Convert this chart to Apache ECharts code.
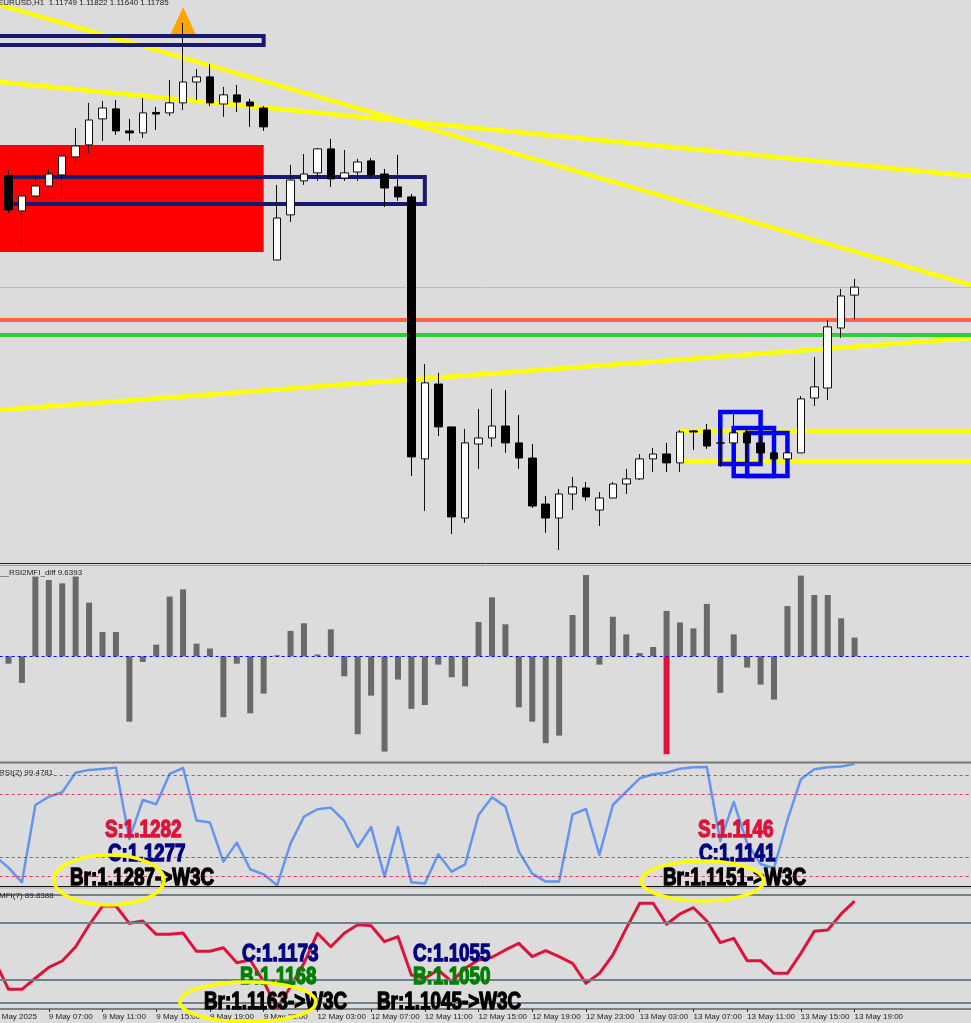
<!DOCTYPE html>
<html>
<head>
<meta charset="utf-8">
<style>html,body{margin:0;padding:0;background:#DCDCDC;overflow:hidden}#c{width:971px;height:1023px}</style>
<script src="https://cdn.jsdelivr.net/npm/echarts@6/dist/echarts.min.js"></script>
</head>
<body>
<div id="c"></div>
<script>
// ---- price candles (64 hourly bars, EURUSD H1)
const opens = [1.12285,1.12128,1.12195,1.1224,1.1229,1.12371,1.12425,1.12542,1.12587,1.12488,1.12479,1.12571,1.12569,1.12614,1.12708,1.12731,1.12609,1.1265,1.12618,1.12591,1.11907,1.1211,1.12263,1.12299,1.12407,1.12276,1.12303,1.12353,1.12294,1.12236,1.12191,1.11012,1.11349,1.11156,1.10746,1.11079,1.11106,1.1116,1.11084,1.11016,1.10809,1.10746,1.10854,1.10881,1.10782,1.10836,1.10899,1.10922,1.11012,1.11034,1.10994,1.11138,1.11142,1.11084,1.11084,1.11129,1.11084,1.11039,1.11012,1.11039,1.11286,1.11331,1.11601,1.11749];
const closes = [1.12132,1.12195,1.1224,1.12294,1.12375,1.1242,1.12537,1.12591,1.12488,1.12479,1.12569,1.12564,1.12614,1.12708,1.12731,1.12614,1.1265,1.12618,1.126,1.12506,1.12096,1.12267,1.12294,1.12407,1.12272,1.12299,1.12348,1.1229,1.12231,1.12191,1.11021,1.11354,1.11156,1.10751,1.11084,1.11106,1.1116,1.11084,1.11016,1.108,1.10746,1.10854,1.10886,1.10841,1.10836,1.10899,1.10922,1.11012,1.11034,1.10994,1.11133,1.11133,1.1107,1.11083,1.11129,1.11084,1.11039,1.11012,1.11039,1.11282,1.11336,1.11606,1.11745,1.11785];
const lows = [1.12119,1.11966,1.12195,1.1224,1.12191,1.12339,1.12389,1.12443,1.1247,1.12443,1.12456,1.12492,1.12555,1.12582,1.12627,1.126,1.12551,1.12573,1.12506,1.12488,1.11907,1.12078,1.12245,1.12263,1.12236,1.12263,1.12263,1.12276,1.12146,1.12173,1.10935,1.10778,1.11115,1.10674,1.10724,1.10967,1.11066,1.11039,1.10967,1.10791,1.10679,1.10602,1.10782,1.10823,1.1071,1.10836,1.10854,1.10917,1.10953,1.10953,1.10953,1.11052,1.11057,1.10976,1.10994,1.10994,1.10994,1.10931,1.11007,1.11039,1.1125,1.11277,1.11556,1.1164];
const highs = [1.12312,1.12209,1.12294,1.12317,1.12389,1.12501,1.12614,1.12623,1.12627,1.12542,1.12636,1.12596,1.12717,1.12974,1.12767,1.12789,1.12686,1.12695,1.12632,1.126,1.12245,1.12335,1.12384,1.12411,1.12452,1.12402,1.12362,1.12366,1.12317,1.1238,1.12204,1.11439,1.11399,1.11156,1.11147,1.11237,1.11327,1.11322,1.1121,1.11079,1.10845,1.10877,1.10931,1.10908,1.10863,1.10908,1.10967,1.11034,1.11061,1.11084,1.11142,1.11142,1.11169,1.11156,1.11219,1.11151,1.11124,1.11066,1.11088,1.11295,1.11471,1.11637,1.11777,1.11822];
// ---- RSI2MFI_diff histogram
const diffGray = [-3.8,-13.7,41.1,39.3,37.6,41.1,27.7,12.5,12.5,-33.7,-2.9,6.0,30.8,34.5,6.5,4.0,-31.4,-3.8,-29.4,-19.2,0.5,13.1,17.0,0.9,13.9,-10.3,-40.2,-20.3,-49.1,-12.0,-27.1,-25.1,-4.3,-10.8,-15.5,17.7,30.4,16.5,-26.3,-33.7,-44.8,-40.9,21.3,41.9,-4.3,20.4,11.3,1.7,4.8,23.4,17.4,14.4,27.0,-18.9,11.3,-5.8,-14.6,-22.3,25.9,41.6,31.6,31.6,19.6,9.6393];
const diffRedIndex = [49];
const diffRedValue = [-50.5];
// ---- RSI(2) and MFI(7); first point is the bar just left of the picture
const rsi = [25.9,16.9,5.2,66.7,73.3,76.8,92.4,94.6,95.4,96.4,39.7,70.7,67.3,91.4,96.1,54.3,52.7,21.7,36.8,15.6,11.6,2.8,36.2,57.4,63.3,64.6,54.0,33.1,49.2,9.7,49.2,5.2,4.2,27.5,13.7,19.5,58.8,72.8,65.4,29.6,12.1,5.8,5.8,59.3,63.5,27.0,66.7,77.3,87.9,91.1,92.4,95.6,96.7,96.9,38.1,69.1,36.2,19.8,16.4,54.8,87.1,95.1,96.7,97.2,99.4781];
const mfi = [39.7,16.4,16.4,25.6,34.7,40.0,51.9,70.0,85.8,85.8,71.4,73.3,62.2,62.2,63.3,48.1,48.1,51.1,38.6,40.8,22.8,0.6,18.6,38.1,63.1,51.9,63.1,70.3,69.4,56.1,60.3,28.3,25.6,32.5,22.8,33.9,40.8,43.1,49.2,54.7,43.6,48.6,43.6,38.1,21.4,29.7,45.0,67.2,88.1,88.1,70.6,79.2,84.4,73.3,55.3,58.9,40.3,40.3,29.7,29.7,46.4,64.7,65.8,79.2,89.8388];
// ---- time axis
const tickIndex = [-1,3,7,11,15,19,23,27,31,35,39,43,47,51,55,59,63];
const tickLabels = ['9 May 2025','9 May 07:00','9 May 11:00','9 May 15:00','9 May 19:00','9 May 23:00','12 May 03:00','12 May 07:00','12 May 11:00','12 May 15:00','12 May 19:00','12 May 23:00','13 May 03:00','13 May 07:00','13 May 11:00','13 May 15:00','13 May 19:00'];
// ---- levels
const rsiLevels = [90,75,25,10];
const mfiLevels = [95,71.7,24.2,5];
const lastPrice = 1.11785, resistanceLevel = 1.11637, supportLevel = 1.115695;
// ---- drawn objects on the price pane [x0, y0, x1, y1] (bar index, price)
const trendLines = [[-2,1.130784,72,1.117887],[-2,1.127161,72,1.122832],[-2,1.112257,72,1.115573]];
const channelLines = [[50,1.111375,72,1.111375],[50,1.110025,72,1.110025]];
const navyBoxes = [[-2,1.12915,19,1.128745],[0,1.122805,31,1.12159]];
const blueBoxes = [[53,1.11223,56,1.10989],[54,1.11151,57,1.10935],[55,1.11129,58,1.10935]];
const redZone = [-2,1.124245,19,1.11943];
const signalMark = [13,1.129848];
// ---- captions
const headerText = 'EURUSD,H1  1.11749 1.11822 1.11640 1.11785';
const diffCaption = '__RSI2MFI_diff 9.6393';
const rsiCaption = 'RSI(2) 99.4781';
const mfiCaption = 'MFI(7) 89.8388';

const BG='#DCDCDC', CRIMSON='#DC143C', YELLOW='#FFFF00', NAVY='#191970', BLUE='#0000FF', LEVEL='#708090';
const UI_FONT='"Liberation Sans", Arial, sans-serif';
const HEAVY='bold 23px "Liberation Sans", Arial, sans-serif';

const barStep=13.43, gridLeft=8.5-2*barStep, gridWidth=74*barStep;
const pane=(top,height)=>({left:gridLeft,width:gridWidth,top,height,containLabel:false,outerBoundsMode:'none',show:false});
const xa=(gridIndex,extra)=>Object.assign({type:'value',gridIndex,min:-2,max:72,show:false,splitLine:{show:false}},extra||{});
const ya=(gridIndex,min,max)=>({type:'value',gridIndex,min,max,show:false,splitLine:{show:false}});
const idx=a=>a.map((v,i)=>[i,v]);
const idxFrom=a=>a.map((v,i)=>[i-1,v]);
const seg=(s,color,width,z)=>({type:'line',xAxisIndex:0,yAxisIndex:0,data:[[s[0],s[1]],[s[2],s[3]]],symbol:'none',silent:true,z,lineStyle:{color,width,cap:'butt'}});
const box=(b,color,width,z)=>({type:'line',xAxisIndex:0,yAxisIndex:0,symbol:'none',silent:true,z,
  data:[[b[0],b[1]],[b[2],b[1]],[b[2],b[3]],[b[0],b[3]],[b[0],b[1]]],lineStyle:{color,width,join:'miter',cap:'square'}});
const levels=(arr,lineStyle)=>({silent:true,symbol:'none',precision:6,label:{show:false},animation:false,lineStyle,data:arr.map(v=>({yAxis:v}))});

const series=[
  {type:'line',xAxisIndex:0,yAxisIndex:0,data:[],z:1,silent:true,
    markArea:{silent:true,precision:6,itemStyle:{color:'#FF0000',opacity:1},data:[[{xAxis:redZone[0],yAxis:redZone[1]},{xAxis:redZone[2],yAxis:redZone[3]}]]}},
  {type:'line',xAxisIndex:0,yAxisIndex:0,data:[],z:2,silent:true,
    markLine:levels([lastPrice],{color:'#BDBDBD',width:1,type:'solid'})},
  {type:'line',xAxisIndex:0,yAxisIndex:0,data:[],z:2,silent:true,
    markLine:levels([resistanceLevel],{color:'#FF6347',width:4,type:'solid'})},
  {type:'line',xAxisIndex:0,yAxisIndex:0,data:[],z:2,silent:true,
    markLine:levels([supportLevel],{color:'#32CD32',width:4,type:'solid'})},
  ...trendLines.map(s=>seg(s,YELLOW,4.5,3)),
  ...channelLines.map(s=>seg(s,YELLOW,4.5,3)),
  ...navyBoxes.map(b=>box(b,NAVY,4,4)),
  ...blueBoxes.map(b=>box(b,BLUE,4.5,4)),
  {type:'scatter',xAxisIndex:0,yAxisIndex:0,data:[signalMark],symbol:'triangle',symbolSize:[25,27],z:4,silent:true,itemStyle:{color:'#FFA500',opacity:1}},
  {type:'candlestick',xAxisIndex:0,yAxisIndex:0,z:5,silent:true,barWidth:8,
    data:opens.map((o,i)=>[i,o,closes[i],lows[i],highs[i]]),
    itemStyle:{color:'#FFFFFF',color0:'#000000',borderColor:'#111111',borderColor0:'#000000',borderWidth:1}},
  {type:'bar',xAxisIndex:1,yAxisIndex:1,data:idx(diffGray),barWidth:6,barGap:'-100%',silent:true,itemStyle:{color:'#696969'},z:2},
  {type:'bar',xAxisIndex:1,yAxisIndex:1,data:diffRedIndex.map((x,i)=>[x,diffRedValue[i]]),barWidth:6,barGap:'-100%',silent:true,itemStyle:{color:CRIMSON},z:3},
  {type:'line',xAxisIndex:1,yAxisIndex:1,data:[],z:4,silent:true,markLine:levels([0],{color:'#0000FF',width:1,type:[3,3]})},
  {type:'line',xAxisIndex:2,yAxisIndex:2,data:idxFrom(rsi),symbol:'none',silent:true,z:3,lineStyle:{color:'#6495ED',width:2.5,join:'round'},
    markLine:levels(rsiLevels,{color:CRIMSON,width:1,type:[3,3],opacity:.8})},
  {type:'line',xAxisIndex:3,yAxisIndex:3,data:idxFrom(mfi),symbol:'none',silent:true,z:3,lineStyle:{color:CRIMSON,width:3,join:'round'},
    markLine:levels(mfiLevels,{color:LEVEL,width:2,type:'solid'})}
];

const caption=(text,x,y,font)=>({type:'text',silent:true,z:100,x,y,style:{text,fill:'#222',font:font||('8px '+UI_FONT),textVerticalAlign:'middle',textAlign:'left'}});
const note=(text,fill,x,y)=>({type:'text',silent:true,z:110,x,y,scaleX:.82,style:{text,fill,font:HEAVY,textAlign:'left',textVerticalAlign:'middle',stroke:fill,lineWidth:1.3}});
const ring=(cx,cy,rx,ry)=>({type:'ellipse',silent:true,z:120,shape:{cx,cy,rx,ry},style:{fill:'none',stroke:'#FFFF00',lineWidth:3.5}});
const rule=(y,color,w)=>({type:'line',silent:true,z:90,shape:{x1:0,y1:y,x2:971,y2:y},style:{stroke:color,lineWidth:w}});

const chart=echarts.init(document.getElementById('c'),null,{renderer:'canvas'});
chart.setOption({
  animation:false,
  backgroundColor:BG,
  tooltip:{show:false},
  grid:[pane(0,563),pane(565,197),pane(763.1,125.8),pane(889,120)],
  xAxis:[xa(0),xa(1),xa(2),xa(3,{
    show:true,
    axisLine:{show:true,onZero:false,lineStyle:{color:'#808080',width:2}},
    axisTick:{show:true,length:3,inside:false,customValues:tickIndex,lineStyle:{color:'#333',width:1}},
    axisLabel:{show:true,customValues:tickIndex,align:'left',margin:4,fontSize:8,fontFamily:UI_FONT,color:'#222',
      formatter:v=>tickLabels[tickIndex.indexOf(v)]}
  })],
  yAxis:[ya(0,1.105435,1.13077),ya(1,-54.49,47.06),ya(2,0,100),ya(3,0,100)],
  series,
  graphic:{elements:[
    rule(563.5,'#222',1),rule(565.5,'#999',1),rule(762.5,'#777',2),rule(886.5,'#111',1),rule(888,'#aaa',1),
    caption(headerText,-2,3),
    caption(diffCaption,0,572.5),
    caption(rsiCaption,-1,772.5),
    caption(mfiCaption,-1,896),
    note('S:1.1282',CRIMSON,105,830.5),note('C:1.1277','#000080',108,854.5),note('Br:1.1287->W3C','#000',70,878.5),
    note('C:1.1173','#000080',242,954.5),note('B:1.1168','#008000',240,977.5),note('Br:1.1163->W3C','#000',204,1002.5),
    note('C:1.1055','#000080',413,954.5),note('B:1.1050','#008000',413,977.5),note('Br:1.1045->W3C','#000',377,1002.5),
    note('S:1.1146',CRIMSON,698,830.5),note('C:1.1141','#000080',699,854.5),note('Br:1.1151->W3C','#000',663,878.5),
    ring(109,880,55,25),ring(248,1002,68,20),ring(702.5,881,61,20)
  ]}
});
</script>
</body>
</html>
